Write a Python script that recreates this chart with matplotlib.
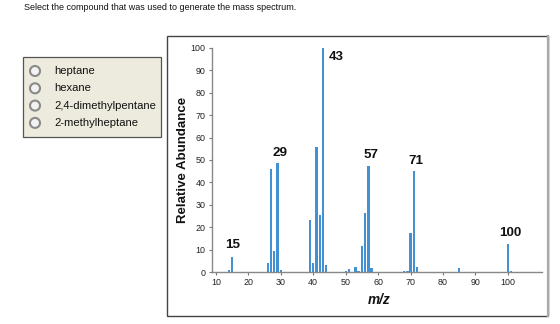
import matplotlib
matplotlib.use('Agg')
import matplotlib.pyplot as plt
from matplotlib.patches import Rectangle, Ellipse

plt.rcParams['font.family'] = ['Liberation Sans', 'DejaVu Sans']

# mass spectrum peaks
mz = [14, 15, 26, 27, 28, 29, 30, 39, 40, 41, 42, 43, 44,
      50, 51, 53, 54, 55, 56, 57, 58, 68, 69, 70, 71, 72, 85, 100, 101]
abundance = [1, 6.5, 4, 46, 9.5, 48.5, 1, 23, 4, 56, 25.5, 100, 3,
             0.6, 1.2, 2.2, 0.6, 11.5, 26.5, 47.5, 1.6, 0.3, 0.6, 17.5, 45, 2.2, 1.6, 12.5, 0.6]

labelled = [15, 29, 43, 57, 71, 100]
choices = ['heptane', 'hexane', '2,4-dimethylpentane', '2-methylheptane']
question = 'Select the compound that was used to generate the mass spectrum.'

W, H = 560, 324
fig = plt.figure(figsize=(W / 100, H / 100), dpi=100)

def fx(px):
    return px / W

def fy(py):
    return 1 - py / H

# question line
fig.text(fx(24), fy(7), question, fontsize=6.45, va='center', ha='left', color='#111')

# radio button box
fig.patches.append(Rectangle((fx(23), fy(137)), fx(161) - fx(23), fy(57) - fy(137),
                             transform=fig.transFigure, facecolor='#ecebdd',
                             edgecolor='#555', lw=0.9))
for i, name in enumerate(choices):
    y = 71 + i * 17.3
    fig.patches.append(Ellipse((fx(35), fy(y)), 10 / W, 10 / H, transform=fig.transFigure,
                               facecolor='#f2f2f2', edgecolor='#8a8a8a', lw=1.5))
    fig.text(fx(54), fy(y), name, fontsize=8.1, va='center', ha='left', color='#111')

# chart frame
fig.patches.append(Rectangle((fx(167), fy(316)), fx(548) - fx(167), fy(36) - fy(316),
                             transform=fig.transFigure, facecolor='none',
                             edgecolor='#444', lw=1))
fig.lines.append(plt.Line2D([fx(548), fx(548)], [fy(36), fy(316)],
                            transform=fig.transFigure, color='#aaa', lw=1.6))

ax = fig.add_axes([fx(212), fy(272), fx(542) - fx(212), fy(48) - fy(272)])
ax.bar(mz, abundance, width=0.72, color='#4390d2', edgecolor='none')

ax.set_xlim(8.8, 110.5)
ax.set_ylim(0, 100)
ax.set_xticks(range(10, 101, 10))
ax.set_yticks(range(0, 101, 10))
ax.tick_params(axis='both', labelsize=6.4, length=2.5, width=0.8, color='#777',
               labelcolor='#222', pad=2)
for side in ['top', 'right']:
    ax.spines[side].set_visible(False)
for side in ['left', 'bottom']:
    ax.spines[side].set_color('#888')
    ax.spines[side].set_linewidth(1)
ax.patch.set_alpha(0)

# peak labels (centre offset from bar top, in data units)
offsets = {15: (0.3, 5.5), 29: (0.8, 4.7), 43: (4.0, -4.0), 57: (0.8, 4.7), 71: (0.6, 4.7), 100: (0.8, 4.9)}
for m in labelled:
    v = abundance[mz.index(m)]
    dx, dy = offsets[m]
    ax.text(m + dx, v + dy, str(m), fontsize=9.6, fontweight='bold',
            ha='center', va='center', color='#111')

fig.text(fx(183), fy(160), 'Relative Abundance', rotation=90, fontsize=9.5,
         fontweight='bold', ha='center', va='center', color='#111')
fig.text(fx(379), fy(300), 'm/z', fontsize=9.8, fontweight='bold', style='italic',
         ha='center', va='center', color='#111')

fig.savefig('out.png', dpi=100)
